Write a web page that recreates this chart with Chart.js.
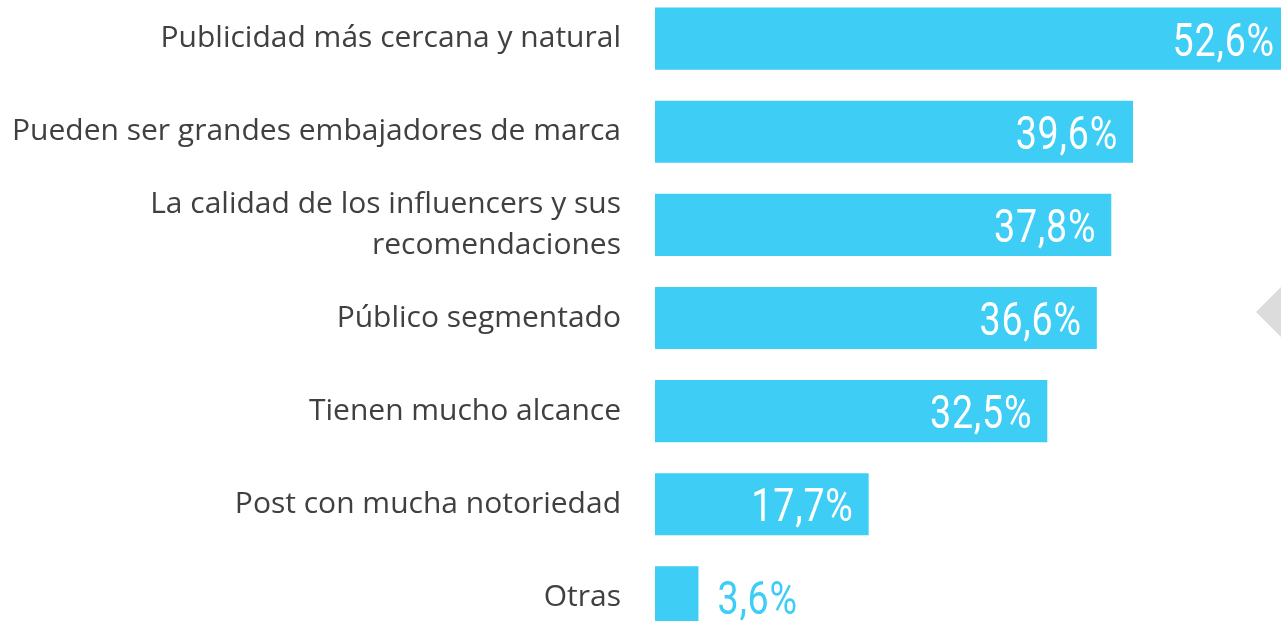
<!DOCTYPE html>
<html>
<head>
<meta charset="utf-8">
<script src="https://cdn.jsdelivr.net/npm/chart.js@4.4.1/dist/chart.umd.min.js"></script>
<style>
    html, body { margin: 0; padding: 0; background: #fff; overflow: hidden; }
    #caja { position: absolute; left: 0; top: -8px; width: 1281px; height: 652px; }
</style>
</head>
<body>
<div id="caja"><canvas id="grafica"></canvas></div>
<script>
const categorias = [
    'Publicidad más cercana y natural',
    'Pueden ser grandes embajadores de marca',
    ['La calidad de los influencers y sus', 'recomendaciones'],
    'Público segmentado',
    'Tienen mucho alcance',
    'Post con mucha notoriedad',
    'Otras'
];
const valores = [52.6, 39.6, 37.8, 36.6, 32.5, 17.7, 3.6];
const etiquetas = ['52,6%', '39,6%', '37,8%', '36,6%', '32,5%', '17,7%', '3,6%'];

const AZUL = '#3dcdf5';

// etiquetas de valor con letra estrecha (escalada en x)
const pluginValores = {
    id: 'valores',
    afterDatasetsDraw(chart) {
        const ctx = chart.ctx;
        const meta = chart.getDatasetMeta(0);
        ctx.save();
        ctx.font = '400 47px Roboto';
        ctx.letterSpacing = '1px';
        ctx.textBaseline = 'alphabetic';
        meta.data.forEach((bar, i) => {
            const ancho = bar.x - bar.base;
            const dentro = ancho > 120;
            ctx.save();
            if (dentro) {
                ctx.translate(bar.x - 15, bar.y + 17);
                ctx.textAlign = 'right';
                ctx.fillStyle = '#ffffff';
            } else {
                ctx.translate(bar.x + 19, bar.y + 17);
                ctx.textAlign = 'left';
                ctx.fillStyle = AZUL;
            }
            ctx.scale(0.8, 1);
            ctx.fillText(etiquetas[i], 0, 0);
            ctx.restore();
        });
        ctx.restore();
    }
};

// pestaña gris decorativa a la derecha
const pluginPestana = {
    id: 'pestana',
    afterDraw(chart) {
        const ctx = chart.ctx;
        ctx.save();
        ctx.fillStyle = '#dcdcdc';
        ctx.beginPath();
        ctx.moveTo(1256, 320);
        ctx.lineTo(1282, 294);
        ctx.lineTo(1282, 346);
        ctx.closePath();
        ctx.fill();
        ctx.restore();
    }
};

new Chart(document.getElementById('grafica'), {
    type: 'bar',
    data: {
        labels: categorias,
        datasets: [{
            data: valores,
            backgroundColor: AZUL,
            borderWidth: 0,
            barPercentage: 0.667,
            categoryPercentage: 1
        }]
    },
    options: {
        indexAxis: 'y',
        responsive: true,
        maintainAspectRatio: false,
        animation: false,
        layout: { padding: 0 },
        plugins: {
            legend: { display: false },
            tooltip: { enabled: false }
        },
        scales: {
            x: {
                display: false,
                min: 0,
                max: 51.86
            },
            y: {
                afterFit(scale) {
                    scale.width = 655;
                    scale.paddingTop = 0;
                    scale.paddingBottom = 0;
                },
                grid: { display: false },
                border: { display: false },
                ticks: {
                    padding: 26,
                    color: '#404040',
                    font: { family: 'Open Sans', size: 30, lineHeight: 1.37 }
                }
            }
        }
    },
    plugins: [pluginValores, pluginPestana]
});
</script>
</body>
</html>
